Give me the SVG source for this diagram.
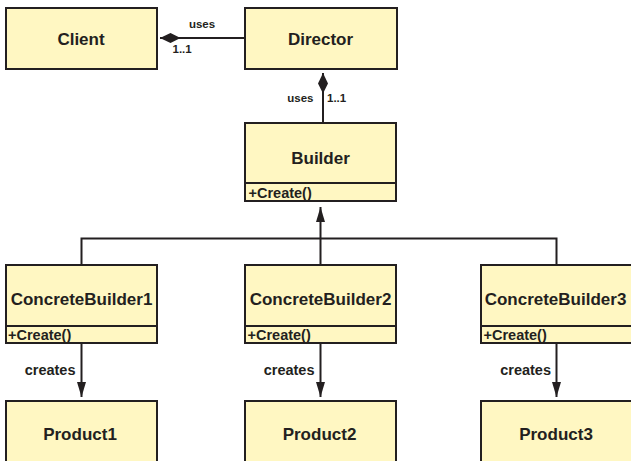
<svg xmlns="http://www.w3.org/2000/svg" width="631" height="461" viewBox="0 0 631 461">
<style>
.box{fill:#FFF7C2;stroke:#231F20;stroke-width:2}
.div{stroke:#231F20;stroke-width:2}
.ln{fill:none;stroke:#231F20;stroke-width:2}
.t{font-family:"Liberation Sans",Arial,sans-serif;font-weight:bold;fill:#231F20}
.name{font-size:17px;text-anchor:middle}
.op{font-size:14.5px}
.lbl{font-size:11.5px}
.cr{font-size:14.5px;text-anchor:end}
</style>
<defs>
<marker id="arrow" markerUnits="userSpaceOnUse" markerWidth="15" markerHeight="9" refX="15" refY="4.5" orient="auto" viewBox="0 0 15 9">
<path d="M0,0 L15,4.5 L0,9 Z" fill="#231F20"/>
</marker>
<marker id="diamond" markerUnits="userSpaceOnUse" markerWidth="20.5" markerHeight="10" refX="20.5" refY="5" orient="auto" viewBox="0 0 20.5 10">
<path d="M0,5 L10,0 L20.5,5 L10,10 Z" fill="#231F20"/>
</marker>
</defs>

<g id="connectors">
<path class="ln" d="M244,38 H160" marker-end="url(#diamond)"/>
<path class="ln" d="M323,122 V73" marker-end="url(#diamond)"/>
<path class="ln" d="M320.5,238.5 V207" marker-end="url(#arrow)"/>
<path class="ln" d="M81.5,264 V238.5 H556.5 V264 M320.5,238.5 V264"/>
<path class="ln" d="M81.5,343 V397" marker-end="url(#arrow)"/>
<path class="ln" d="M320.5,343 V397" marker-end="url(#arrow)"/>
<path class="ln" d="M556.5,343 V397" marker-end="url(#arrow)"/>
<text class="t lbl" x="202" y="27.5" text-anchor="middle">uses</text>
<text class="t lbl" x="172.5" y="53">1..1</text>
<text class="t lbl" x="313.5" y="102" text-anchor="end">uses</text>
<text class="t lbl" x="327" y="102">1..1</text>
<text class="t cr" x="75.5" y="374.5">creates</text>
<text class="t cr" x="314.5" y="374.5">creates</text>
<text class="t cr" x="551" y="374.5">creates</text>
</g>

<g id="client">
<rect class="box" x="6" y="8" width="151" height="61"/>
<text class="t name" x="81" y="45">Client</text>
</g>
<g id="director">
<rect class="box" x="245" y="8" width="152" height="61"/>
<text class="t name" x="320.5" y="45">Director</text>
</g>
<g id="builder">
<rect class="box" x="245" y="123" width="151" height="78"/>
<line class="div" x1="245" y1="183" x2="396" y2="183"/>
<text class="t name" x="320.5" y="163.5">Builder</text>
<text class="t op" x="248.5" y="197.5">+Create()</text>
</g>
<g id="cb1">
<rect class="box" x="6" y="265" width="151" height="78"/>
<line class="div" x1="6" y1="326" x2="157" y2="326"/>
<text class="t name" x="81.5" y="305">ConcreteBuilder1</text>
<text class="t op" x="8" y="340">+Create()</text>
</g>
<g id="cb2">
<rect class="box" x="245" y="265" width="151" height="78"/>
<line class="div" x1="245" y1="326" x2="396" y2="326"/>
<text class="t name" x="320.5" y="305">ConcreteBuilder2</text>
<text class="t op" x="247.5" y="340">+Create()</text>
</g>
<g id="cb3">
<rect class="box" x="481" y="265" width="152" height="78"/>
<line class="div" x1="481" y1="326" x2="633" y2="326"/>
<text class="t name" x="555.5" y="305">ConcreteBuilder3</text>
<text class="t op" x="483.5" y="340">+Create()</text>
</g>
<g id="product1">
<rect class="box" x="6" y="401" width="151" height="64"/>
<text class="t name" x="80" y="439.5">Product1</text>
</g>
<g id="product2">
<rect class="box" x="245" y="401" width="151" height="64"/>
<text class="t name" x="319.5" y="439.5">Product2</text>
</g>
<g id="product3">
<rect class="box" x="481" y="401" width="152" height="64"/>
<text class="t name" x="556" y="439.5">Product3</text>
</g>
</svg>
